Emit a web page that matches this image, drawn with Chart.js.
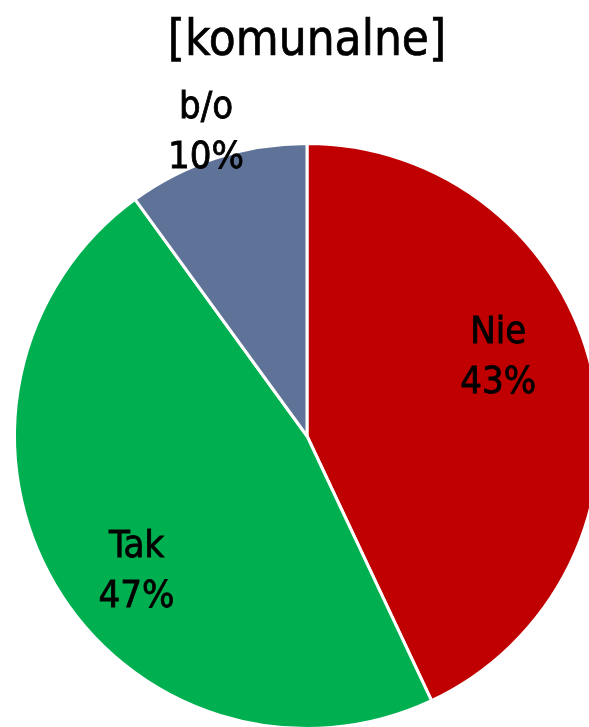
<!DOCTYPE html>
<html>
<head>
<meta charset="utf-8">
<script src="https://cdn.jsdelivr.net/npm/chart.js@4/dist/chart.umd.min.js"></script>
<style>
html,body{margin:0;padding:0;width:589px;height:727px;overflow:hidden;background:#fff;}
#title{position:absolute;left:0;top:4px;width:614px;text-align:center;font-family:"DejaVu Sans Condensed","DejaVu Sans",sans-serif;font-size:49px;color:#000;line-height:70px;-webkit-text-stroke:0.7px #000;}
#wrap{position:absolute;left:0;top:0;width:614px;height:745px;}
</style>
</head>
<body>
<div id="wrap"><canvas id="c" width="614" height="745"></canvas></div>
<div id="title">[komunalne]</div>
<script>
const categories = ["Nie", "Tak", "b/o"];
const values = [43, 47, 10];
const colors = ["#C00000", "#00B050", "#5F7399"];

const labelPlugin = {
  id: 'sliceLabels',
  afterDatasetsDraw(chart, args, opts) {
    const ctx = chart.ctx;
    const meta = chart.getDatasetMeta(0);
    ctx.save();
    ctx.font = opts.font;
    ctx.fillStyle = '#000';
    ctx.strokeStyle = '#000';
    ctx.lineWidth = 0.8;
    ctx.textAlign = 'center';
    ctx.textBaseline = 'alphabetic';
    meta.data.forEach((arc, i) => {
      const mid = (arc.startAngle + arc.endAngle) / 2;
      const r = arc.outerRadius * opts.radial[i];
      const a = mid + opts.angleShift[i];
      const x = arc.x + Math.cos(a) * r;
      const y = arc.y + Math.sin(a) * r;
      const lines = [categories[i], values[i] + '%'];
      lines.forEach((t, k) => {
        const yy = y - 12 + k * 50;
        ctx.fillText(t, x, yy);
        ctx.strokeText(t, x, yy);
      });
    });
    ctx.restore();
  }
};

new Chart(document.getElementById('c'), {
  type: 'pie',
  data: {
    labels: categories,
    datasets: [{
      data: values,
      backgroundColor: colors,
      borderColor: '#fff',
      borderWidth: 3
    }]
  },
  options: {
    responsive: false,
    animation: false,
    layout: { padding: { left: 13, top: 142, right: 13, bottom: 15 } },
    plugins: {
      legend: { display: false },
      tooltip: { enabled: false },
      sliceLabels: {
        font: '38px "DejaVu Sans Condensed", "DejaVu Sans", sans-serif',
        radial: [0.71, 0.74, 1.10],
        angleShift: [-0.18, -0.13, -0.005]
      }
    }
  },
  plugins: [labelPlugin]
});
</script>
</body>
</html>
